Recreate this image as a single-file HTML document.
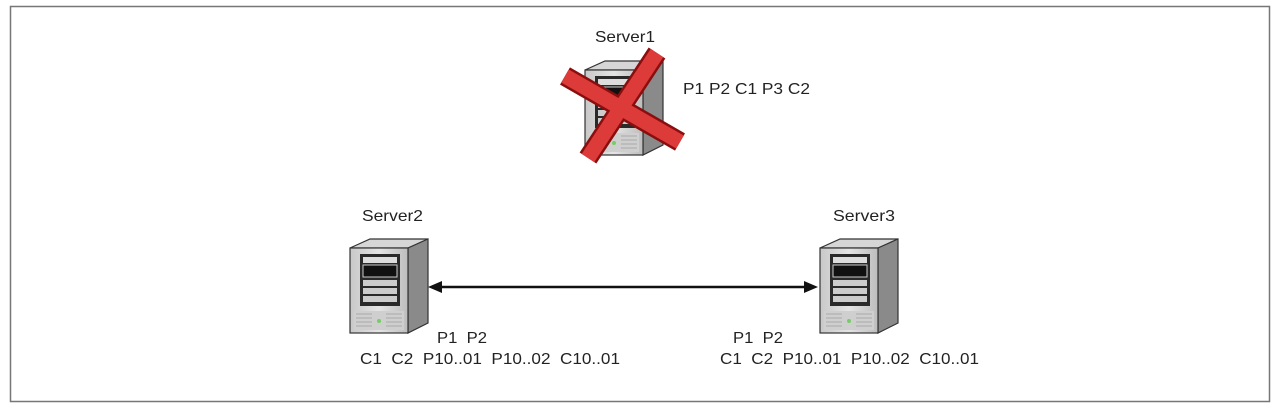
<!DOCTYPE html>
<html><head><meta charset="utf-8"><style>
html,body{margin:0;padding:0;background:#fff;}
svg{display:block;}
text{font-family:"Liberation Sans",Arial,sans-serif;font-size:16px;fill:#222;white-space:pre;}
</style></head><body>
<svg width="1280" height="409" viewBox="0 0 1280 409" xmlns="http://www.w3.org/2000/svg">
<defs>
<linearGradient id="fr" x1="0" y1="0" x2="1" y2="0"><stop offset="0" stop-color="#c8c8c8"/><stop offset="0.5" stop-color="#e4e4e4"/><stop offset="1" stop-color="#bdbdbd"/></linearGradient>
<g id="srv">
<polygon points="0,0 20,-9 78,-9 58,0" fill="#d6d6d6" stroke="#333" stroke-width="1.2"/>
<polygon points="58,0 78,-9 78,75 58,85" fill="#8a8a8a" stroke="#333" stroke-width="1.2"/>
<rect x="0" y="0" width="58" height="85" fill="url(#fr)" stroke="#333" stroke-width="1.2"/>
<rect x="10" y="6" width="40" height="52" fill="#2a2a2a"/>
<rect x="13" y="9" width="34" height="6" fill="#ddd"/>
<rect x="13" y="17" width="34" height="12" fill="#111" stroke="#ccc" stroke-width="1"/>
<rect x="13" y="32" width="34" height="6" fill="#ccc"/>
<rect x="13" y="40" width="34" height="6" fill="#ccc"/>
<rect x="13" y="48" width="34" height="6" fill="#ccc"/>
<rect x="4" y="63" width="50" height="19" fill="#cfcfcf"/>
<g stroke="#aaa" stroke-width="1"><line x1="6" y1="66" x2="22" y2="66"/><line x1="6" y1="70" x2="22" y2="70"/><line x1="6" y1="74" x2="22" y2="74"/><line x1="6" y1="78" x2="22" y2="78"/><line x1="36" y1="66" x2="52" y2="66"/><line x1="36" y1="70" x2="52" y2="70"/><line x1="36" y1="74" x2="52" y2="74"/><line x1="36" y1="78" x2="52" y2="78"/></g>
<circle cx="29" cy="73" r="2" fill="#7c6"/>
</g>
</defs>
<rect x="10.5" y="6.5" width="1259" height="395" fill="#fff" stroke="#777" stroke-width="1.5"/>

<use href="#srv" x="585" y="70"/>
<g stroke="#8a0e0e" stroke-width="20" stroke-linecap="butt">
<line x1="565" y1="76" x2="680" y2="142"/>
<line x1="657" y1="53" x2="588" y2="158"/>
</g>
<g stroke="#dd3a3a" stroke-width="15">
<line x1="565" y1="76" x2="680" y2="142"/>
<line x1="657" y1="53" x2="588" y2="158"/>
</g>

<use href="#srv" x="350" y="248"/>
<use href="#srv" x="820" y="248"/>

<line x1="440" y1="287" x2="806" y2="287" stroke="#111" stroke-width="2.5"/>
<polygon points="428,287 442,281 442,293" fill="#111"/>
<polygon points="818,287 804,281 804,293" fill="#111"/>

<text x="595" y="42" textLength="60" lengthAdjust="spacingAndGlyphs">Server1</text>
<text x="683" y="94" textLength="127" lengthAdjust="spacingAndGlyphs">P1 P2 C1 P3 C2</text>
<text x="362" y="221" textLength="61" lengthAdjust="spacingAndGlyphs">Server2</text>
<text x="833" y="221" textLength="62" lengthAdjust="spacingAndGlyphs">Server3</text>
<text x="437" y="343" textLength="50" lengthAdjust="spacingAndGlyphs">P1  P2</text>
<text x="360" y="364" textLength="260" lengthAdjust="spacingAndGlyphs">C1  C2  P10..01  P10..02  C10..01</text>
<text x="733" y="343" textLength="50" lengthAdjust="spacingAndGlyphs">P1  P2</text>
<text x="720" y="364" textLength="259" lengthAdjust="spacingAndGlyphs">C1  C2  P10..01  P10..02  C10..01</text>
</svg>
</body></html>
